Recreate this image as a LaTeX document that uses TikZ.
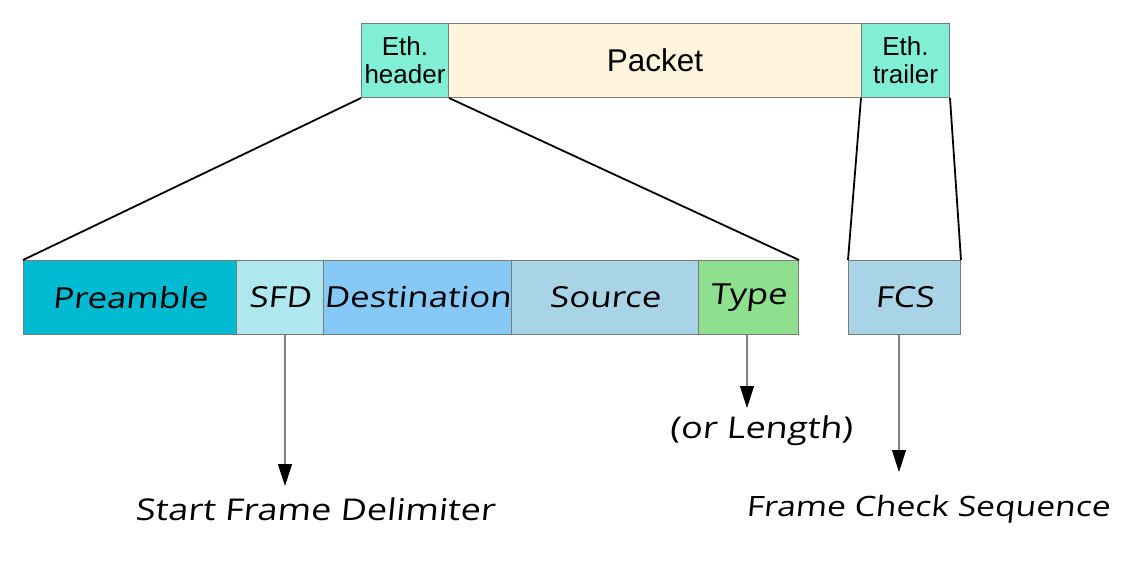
\documentclass[tikz,border=0pt]{standalone}
\usepackage{fontspec}
\setmainfont{Liberation Sans}
\newfontfamily\handfont[FakeStretch=1.2, FakeSlant=0.1]{Open Sans}
\usetikzlibrary{arrows.meta}
\definecolor{ethgreen}{HTML}{80EFD6}
\definecolor{packetc}{HTML}{FFF5DC}
\definecolor{preamc}{HTML}{00BAD2}
\definecolor{sfdc}{HTML}{AEE8EE}
\definecolor{destc}{HTML}{86C9F6}
\definecolor{srcc}{HTML}{A9D4E6}
\definecolor{typec}{HTML}{8EDF8E}
\definecolor{fcsc}{HTML}{A9D4E6}
\definecolor{edgec}{HTML}{7A7A7A}
\begin{document}
\begin{tikzpicture}[x=1pt,y=-1pt,
  topbox/.style={draw=edgec, line width=1pt, anchor=north west, minimum height=74pt,
    inner sep=0pt, align=center, font=\fontsize{26}{28}\selectfont},
  fieldbox/.style={draw=edgec, line width=1pt, anchor=north west, minimum height=74pt,
    inner sep=0pt, font=\handfont\fontsize{29}{32}\selectfont},
  zoomline/.style={black, line width=1.8pt},
  pointer/.style={draw=gray, line width=1.1pt,
    -{Triangle[width=14pt,length=22pt,color=black]}},
  note/.style={inner sep=0pt, font=\handfont\fontsize{30}{33}\selectfont}]
\useasboundingbox (0,0) rectangle (1127,577);

% frame overview
\node[topbox, fill=ethgreen, minimum width=87pt] (hdr) at (361,23) {Eth.\\header};
\node[topbox, fill=packetc, minimum width=413pt, font=\fontsize{31.5}{33}\selectfont] (pkt) at (448,23) {Packet};
\node[topbox, fill=ethgreen, minimum width=88pt] (trl) at (861,23) {Eth.\\trailer};

% header fields
\node[fieldbox, fill=preamc, minimum width=213pt] (pre) at (23,260) {Preamble};
\node[fieldbox, fill=sfdc, minimum width=87pt] (sfd) at (236,260) {SFD};
\node[fieldbox, fill=destc, minimum width=188pt] (dst) at (323,260) {Destination};
\node[fieldbox, fill=srcc, minimum width=187pt] (src) at (511,260) {Source};
\node[fieldbox, fill=typec, minimum width=100pt] (typ) at (698,260) {Type};

% trailer field
\node[fieldbox, fill=fcsc, minimum width=112pt] (fcs) at (848,260) {FCS};

% expansion lines
\draw[zoomline] (hdr.south west) -- (pre.north west);
\draw[zoomline] (hdr.south east) -- (typ.north east);
\draw[zoomline] (trl.south west) -- (fcs.north west);
\draw[zoomline] (trl.south east) -- (fcs.north east);

% explanations
\node[note] (sfdtxt) at (315,509) {Start Frame Delimiter};
\node[note] (lentxt) at (761,431) {(or Length)};
\node[note, font=\handfont\fontsize{28}{31}\selectfont] (fcstxt) at (928,509) {Frame Check Sequence};

\coordinate (sfdtip) at (285,486);
\coordinate (typtip) at (747,408);
\coordinate (fcstip) at (899,472);
\draw[pointer] (sfd.south -| sfdtip) -- (sfdtip);
\draw[pointer] (typ.south -| typtip) -- (typtip);
\draw[pointer] (fcs.south -| fcstip) -- (fcstip);
\end{tikzpicture}
\end{document}
